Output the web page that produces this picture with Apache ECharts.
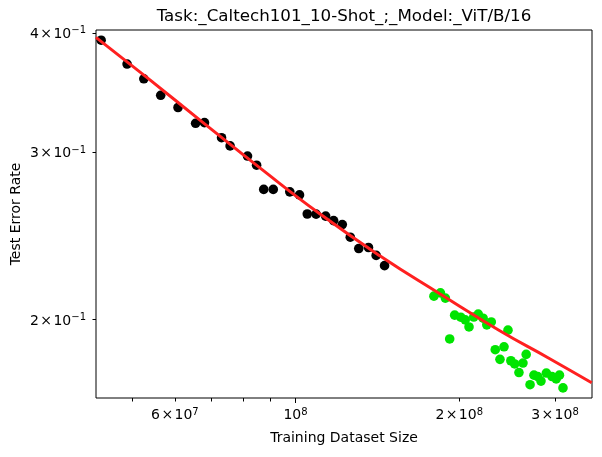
<!DOCTYPE html>
<html><head><meta charset="utf-8">
<script src="https://cdn.jsdelivr.net/npm/echarts@6/dist/echarts.min.js"></script>
<style>html,body{margin:0;padding:0;background:#fff}#c{width:602px;height:457px}</style>
</head><body><div id="c"></div>
<script>
const titleText = 'Task:_Caltech101_10-Shot_;_Model:_ViT/B/16';
const xName = 'Training Dataset Size';
const yName = 'Test Error Rate';

const blackX = [4.39e7, 4.90e7, 5.26e7, 5.65e7, 6.08e7, 6.55e7, 6.80e7, 7.31e7, 7.58e7, 8.16e7, 8.48e7, 8.74e7, 9.10e7, 9.76e7, 1.017e8, 1.051e8, 1.091e8, 1.136e8, 1.175e8, 1.219e8, 1.261e8, 1.307e8, 1.362e8, 1.407e8, 1.458e8];
const blackY = [0.393, 0.371, 0.358, 0.344, 0.334, 0.3215, 0.322, 0.3105, 0.3044, 0.297, 0.2905, 0.274, 0.274, 0.2724, 0.2704, 0.2582, 0.2581, 0.2569, 0.2541, 0.2517, 0.2441, 0.2375, 0.2381, 0.2336, 0.2279];

const greenX = [1.797e8, 1.847e8, 1.886e8, 1.921e8, 1.962e8, 2.013e8, 2.052e8, 2.085e8, 2.127e8, 2.168e8, 2.213e8, 2.248e8, 2.291e8, 2.459e8, 2.330e8, 2.418e8, 2.377e8, 2.489e8, 2.530e8, 2.576e8, 2.620e8, 2.656e8, 2.700e8, 2.745e8, 2.828e8, 2.789e8, 2.893e8, 2.963e8, 3.016e8, 3.058e8, 3.104e8];
const greenY = [0.2117, 0.2134, 0.2107, 0.1909, 0.2022, 0.2012, 0.1999, 0.1965, 0.2013, 0.2027, 0.2007, 0.1975, 0.1989, 0.1950, 0.1860, 0.1873, 0.1817, 0.1811, 0.1797, 0.1760, 0.1801, 0.1839, 0.1709, 0.1749, 0.1724, 0.1743, 0.1758, 0.1743, 0.1733, 0.1749, 0.1696];

const fitX = [4.294e7, 5.398e7, 6.672e7, 8.600e7, 1.108e8, 1.429e8, 1.842e8, 2.375e8, 2.935e8, 3.505e8];
const fitY = [0.3957, 0.3570, 0.3240, 0.2886, 0.2583, 0.2334, 0.2129, 0.1947, 0.1820, 0.1717];

const xMajorTicks = [1e8];
const xMinorTicks = [5e7, 6e7, 7e7, 8e7, 9e7, 2e8, 3e8];
const xTickLabels = [6e7, 1e8, 2e8, 3e8];
const yTickLabels = [0.2, 0.3, 0.4];
const xRange = [4.2956e7, 3.5098e8];
const yRange = [0.1655, 0.4028];

const FONT = 'DejaVu Sans';
function sci(v) {
  const e = Math.floor(Math.log10(v) + 1e-9);
  const m = Math.round(v / Math.pow(10, e));
  const es = e < 0 ? '\u2212' + (-e) : String(e);
  if (m === 1) return '{n|10}{e|' + es + '}';
  return '{n|' + m + '\u200a\u00d7\u200a10}{e|' + es + '}';
}
const rich = {
  n: {fontSize: 14, lineHeight: 14, padding: [3, 0, 0, 0], fontFamily: FONT, color: '#000'},
  e: {fontSize: 10, lineHeight: 10, verticalAlign: 'top', fontFamily: FONT, color: '#000'}
};
const zip = (a, b) => a.map((v, i) => [v, b[i]]);

const chart = echarts.init(document.getElementById('c'));
const gridPos = {left: 96, right: 10, top: 30, bottom: 59, containLabel: false, outerBoundsMode: 'none'};
chart.setOption({
  animation: false,
  backgroundColor: '#fff',
  grid: [
    Object.assign({show: true, borderColor: '#000', borderWidth: 1, backgroundColor: 'transparent'}, gridPos),
    Object.assign({show: false}, gridPos)
  ],
  graphic: [{
    type: 'text', x: 344, y: 16.5,
    style: {text: titleText, font: '16.7px "DejaVu Sans"', fill: '#000', textAlign: 'center', textVerticalAlign: 'middle'}
  }],
  xAxis: [{
    type: 'log', gridIndex: 0, min: xRange[0], max: xRange[1],
    name: xName, nameLocation: 'middle', nameGap: 33, nameMoveOverlap: false,
    nameTextStyle: {fontSize: 14, fontFamily: FONT, color: '#000'},
    axisLine: {show: false},
    splitLine: {show: false},
    axisTick: {show: true, length: 5, lineStyle: {color: '#000', width: 1}, customValues: xMajorTicks},
    axisLabel: {show: true, margin: 9, customValues: xTickLabels, formatter: sci, rich: rich}
  }, {
    type: 'log', gridIndex: 1, min: xRange[0], max: xRange[1],
    axisLine: {show: false}, splitLine: {show: false}, axisLabel: {show: false},
    axisTick: {show: true, length: 3.5, lineStyle: {color: '#000', width: 1}, customValues: xMinorTicks}
  }],
  yAxis: [{
    type: 'log', gridIndex: 0, min: yRange[0], max: yRange[1],
    name: yName, nameLocation: 'middle', nameGap: 73, nameMoveOverlap: false,
    nameTextStyle: {fontSize: 14, fontFamily: FONT, color: '#000'},
    axisLine: {show: false}, splitLine: {show: false},
    axisTick: {show: true, length: 3.5, lineStyle: {color: '#000', width: 1}, customValues: yTickLabels},
    axisLabel: {show: true, margin: 10, customValues: yTickLabels, formatter: sci, rich: rich}
  }, {
    type: 'log', gridIndex: 1, min: yRange[0], max: yRange[1],
    axisLine: {show: false}, splitLine: {show: false}, axisLabel: {show: false}, axisTick: {show: false}
  }],
  series: [{
    type: 'scatter', xAxisIndex: 0, yAxisIndex: 0, data: zip(blackX, blackY),
    symbolSize: 9.6, itemStyle: {color: '#000', opacity: 1}, z: 2
  }, {
    type: 'scatter', xAxisIndex: 0, yAxisIndex: 0, data: zip(greenX, greenY),
    symbolSize: 9.6, itemStyle: {color: '#00e400', opacity: 1}, z: 2
  }, {
    type: 'line', xAxisIndex: 0, yAxisIndex: 0, data: zip(fitX, fitY),
    smooth: true, showSymbol: false, clip: true,
    lineStyle: {color: '#ff2020', width: 3}, z: 3
  }]
});
</script></body></html>
